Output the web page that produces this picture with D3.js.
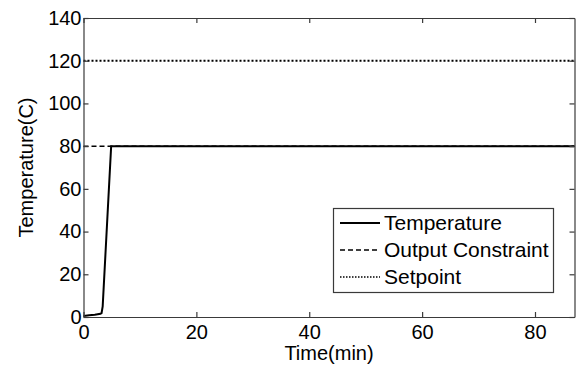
<!DOCTYPE html>
<html><head><meta charset="utf-8">
<script src="https://cdn.jsdelivr.net/npm/d3@7"></script>
<style>body{margin:0;background:#fff}svg{display:block}text{font-family:Arial,"Liberation Sans",sans-serif}</style>
</head><body>
<svg id="c" width="577" height="368"></svg>
<script>
const timeVals = [0, 1, 2, 3, 3.2, 3.4, 4.9, 87];
const tempVals = [0.5, 0.8, 1.1, 1.5, 1.8, 5, 80, 80];
const constraintVal = 80;
const setpointVal = 120;
const xTicks = [0, 20, 40, 60, 80];
const yTicks = [0, 20, 40, 60, 80, 100, 120, 140];
const legendLabels = ["Temperature", "Output Constraint", "Setpoint"];

const svg = d3.select("#c");
const L = 83.5, R = 574.5, T = 18, B = 317;
const x = d3.scaleLinear().domain([0, 87]).range([L, R]);
const y = d3.scaleLinear().domain([0, 140]).range([B, T]);
const axisCol = "#3a3a3a";

const g = svg.append("g");
g.append("line").attr("x1", x(0)).attr("x2", x(87)).attr("y1", y(setpointVal)).attr("y2", y(setpointVal))
 .attr("stroke", "#000").attr("stroke-width", 2).attr("stroke-dasharray", "2,2");
g.append("line").attr("x1", x(0)).attr("x2", x(87)).attr("y1", y(constraintVal)).attr("y2", y(constraintVal))
 .attr("stroke", "#000").attr("stroke-width", 1.5).attr("stroke-dasharray", "5,3");
const pts = timeVals.map((t, i) => [t, tempVals[i]]);
g.append("path").attr("d", d3.line().x(d => x(d[0])).y(d => y(d[1]))(pts))
 .attr("fill", "none").attr("stroke", "#000").attr("stroke-width", 2);

const fs = "20px";
const ax = svg.append("g").attr("transform", `translate(0,${B})`)
 .call(d3.axisBottom(x).tickValues(xTicks).tickSizeInner(-5).tickSizeOuter(0).tickPadding(10));
const ay = svg.append("g").attr("transform", `translate(${L},0)`)
 .call(d3.axisLeft(y).tickValues(yTicks).tickSizeInner(-5).tickSizeOuter(0).tickPadding(2));
const at = svg.append("g").attr("transform", `translate(0,${T})`)
 .call(d3.axisTop(x).tickValues(xTicks).tickSizeInner(-5).tickSizeOuter(0).tickFormat(""));
const ar = svg.append("g").attr("transform", `translate(${R},0)`)
 .call(d3.axisRight(y).tickValues(yTicks).tickSizeInner(-5).tickSizeOuter(0).tickFormat(""));
[ax, ay, at, ar].forEach(a => {
  a.select(".domain").attr("stroke", axisCol).attr("stroke-width", 1.2);
  a.selectAll(".tick line").attr("stroke", axisCol).attr("stroke-width", 1.2);
  a.selectAll(".tick text").attr("fill", "#000").style("font-size", fs).style("font-family", "Arial, 'Liberation Sans', sans-serif");
});
ax.selectAll(".tick text").attr("dy", "0.62em");

svg.append("text").attr("x", (L + R) / 2).attr("y", 360).attr("text-anchor", "middle")
 .style("font-size", fs).text("Time(min)");
svg.append("text").attr("transform", `translate(33,${(T + B) / 2}) rotate(-90)`).attr("text-anchor", "middle")
 .style("font-size", fs).text("Temperature(C)");

const lg = svg.append("g");
lg.append("rect").attr("x", 333.5).attr("y", 208.5).attr("width", 220).attr("height", 84)
 .attr("fill", "#fff").attr("stroke", axisCol).attr("stroke-width", 1.2);
const styles = [
  {w: 2, d: null},
  {w: 1.5, d: "5,3"},
  {w: 1.5, d: "1.5,1.5"}
];
legendLabels.forEach((lab, i) => {
  const yy = 223 + i * 27;
  lg.append("line").attr("x1", 340).attr("x2", 380).attr("y1", yy).attr("y2", yy)
    .attr("stroke", "#000").attr("stroke-width", styles[i].w).attr("stroke-dasharray", styles[i].d);
  lg.append("text").attr("x", 384).attr("y", yy).attr("dy", "0.35em").style("font-size", "21px").text(lab);
});
</script>
</body></html>
